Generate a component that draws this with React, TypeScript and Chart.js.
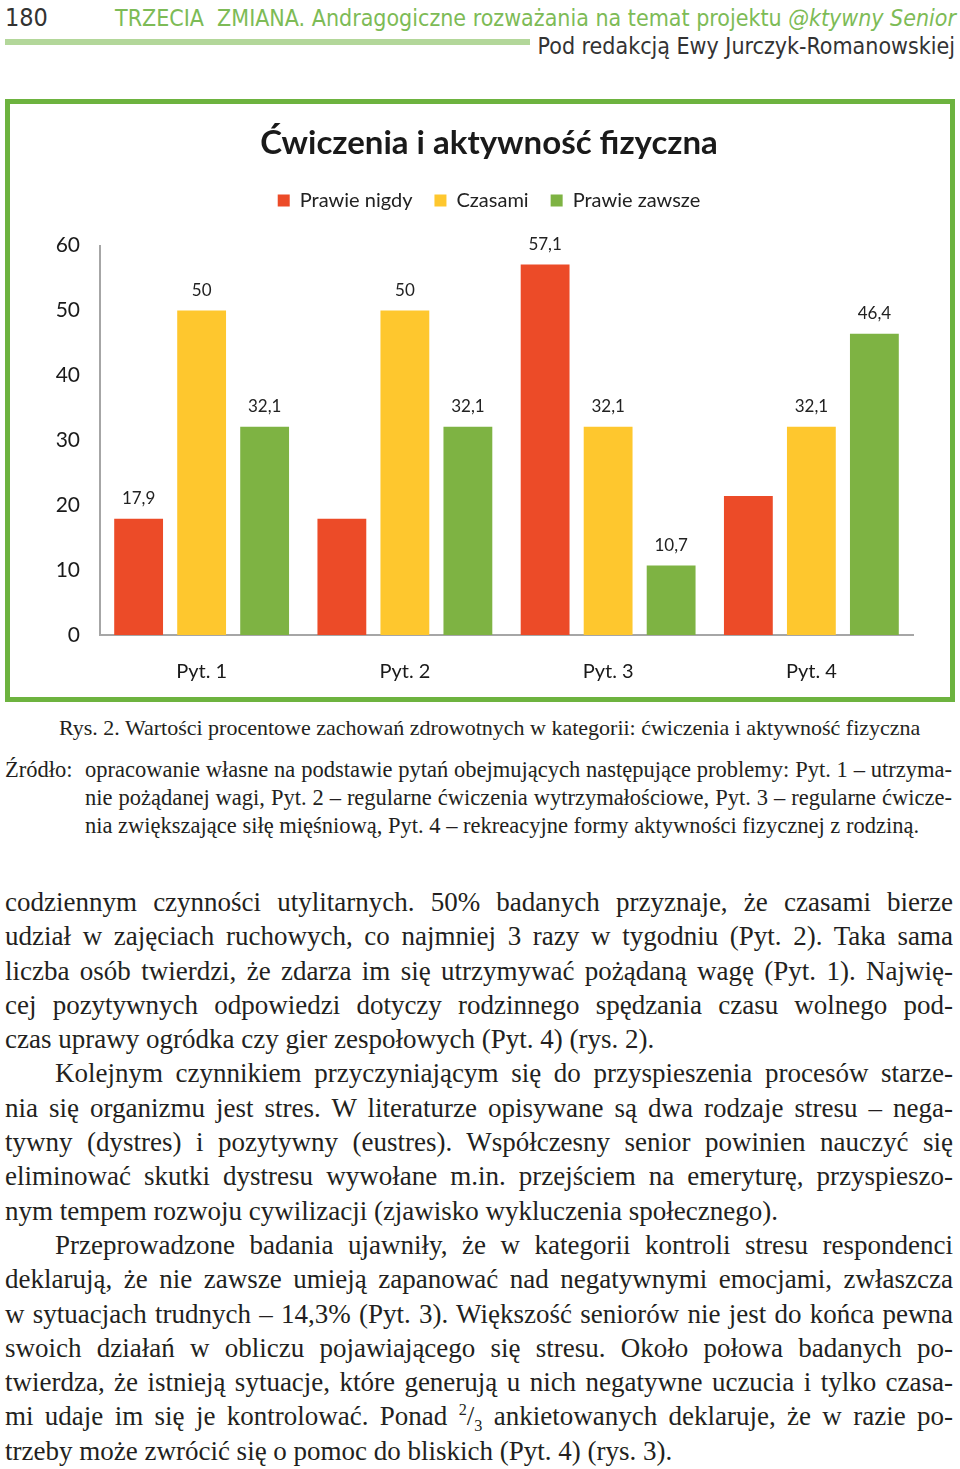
import React, { useEffect, useRef } from "react";
import { Chart, registerables } from "chart.js";

Chart.register(...registerables);

const chartTitle = "Ćwiczenia i aktywność fizyczna";
const categories = ["Pyt. 1", "Pyt. 2", "Pyt. 3", "Pyt. 4"];
const seriesNames = ["Prawie nigdy", "Czasami", "Prawie zawsze"];
const prawieNigdy = [17.9, 17.9, 57.1, 21.4];
const czasami = [50, 50, 32.1, 32.1];
const prawieZawsze = [32.1, 32.1, 10.7, 46.4];
const labelShownPrawieNigdy = [true, false, true, false];
const labelShownCzasami = [true, true, true, true];
const labelShownPrawieZawsze = [true, true, true, true];
const yMin = 0;
const yMax = 60;
const yStep = 10;

const seriesColors = ["#EC4B28", "#FEC72E", "#7EB343"];

const headerTitle = "TRZECIA  ZMIANA. Andragogiczne rozważania na temat projektu ";
const headerTitleItalic = "@ktywny Senior";
const headerEditor = "Pod redakcją Ewy Jurczyk-Romanowskiej";
const pageNumber = "180";
const captionText =
  "Rys. 2. Wartości procentowe zachowań zdrowotnych w kategorii: ćwiczenia i aktywność fizyczna";
const sourceLabel = "Źródło:";
const sourceLines = [
  "opracowanie własne na podstawie pytań obejmujących następujące problemy: Pyt. 1 – utrzyma-",
  "nie pożądanej wagi, Pyt. 2 – regularne ćwiczenia wytrzymałościowe, Pyt. 3 – regularne ćwicze-",
  "nia zwiększające siłę mięśniową, Pyt. 4 – rekreacyjne formy aktywności fizycznej z rodziną.",
];
// [text, indent, justify]
const bodyLines: [string, boolean, boolean][] = [
  ["codziennym czynności utylitarnych. 50% badanych przyznaje, że czasami bierze", false, true],
  ["udział w zajęciach ruchowych, co najmniej 3 razy w tygodniu (Pyt. 2). Taka sama", false, true],
  ["liczba osób twierdzi, że zdarza im się utrzymywać pożądaną wagę (Pyt. 1). Najwię-", false, true],
  ["cej pozytywnych odpowiedzi dotyczy rodzinnego spędzania czasu wolnego pod-", false, true],
  ["czas uprawy ogródka czy gier zespołowych (Pyt. 4) (rys. 2).", false, false],
  ["Kolejnym czynnikiem przyczyniającym się do przyspieszenia procesów starze-", true, true],
  ["nia się organizmu jest stres. W literaturze opisywane są dwa rodzaje stresu – nega-", false, true],
  ["tywny (dystres) i pozytywny (eustres). Współczesny senior powinien nauczyć się", false, true],
  ["eliminować skutki dystresu wywołane m.in. przejściem na emeryturę, przyspieszo-", false, true],
  ["nym tempem rozwoju cywilizacji (zjawisko wykluczenia społecznego).", false, false],
  ["Przeprowadzone badania ujawniły, że w kategorii kontroli stresu respondenci", true, true],
  ["deklarują, że nie zawsze umieją zapanować nad negatywnymi emocjami, zwłaszcza", false, true],
  ["w sytuacjach trudnych – 14,3% (Pyt. 3). Większość seniorów nie jest do końca pewna", false, true],
  ["swoich działań w obliczu pojawiającego się stresu. Około połowa badanych po-", false, true],
  ["twierdza, że istnieją sytuacje, które generują u nich negatywne uczucia i tylko czasa-", false, true],
  ["mi udaje im się je kontrolować. Ponad |FRAC| ankietowanych deklaruje, że w razie po-", false, true],
  ["trzeby może zwrócić się o pomoc do bliskich (Pyt. 4) (rys. 3).", false, false],
];

const fmt = (v: number) => String(v).replace(".", ",");
const chartFont = "Lato, 'Open Sans', sans-serif";

function BarChart() {
  const ref = useRef<HTMLCanvasElement | null>(null);
  useEffect(() => {
    if (!ref.current) return;
    const shown = [labelShownPrawieNigdy, labelShownCzasami, labelShownPrawieZawsze];
    const valueLabels = {
      id: "valueLabels",
      afterDatasetsDraw(chart: any) {
        const ctx = chart.ctx;
        ctx.save();
        ctx.font = "17px " + chartFont;
        ctx.fillStyle = "#222";
        ctx.textAlign = "center";
        ctx.textBaseline = "middle";
        chart.data.datasets.forEach((ds: any, di: number) => {
          const meta = chart.getDatasetMeta(di);
          meta.data.forEach((el: any, i: number) => {
            if (!shown[di][i]) return;
            ctx.fillText(fmt(ds.data[i]), el.x, el.y - 20);
          });
        });
        ctx.restore();
      },
    };
    const legendSpace = {
      id: "legendSpace",
      beforeInit(chart: any) {
        const origFit = chart.legend.fit;
        chart.legend.fit = function fit() {
          origFit.bind(chart.legend)();
          this.height += 25;
        };
      },
    };
    const chart = new Chart(ref.current, {
      type: "bar",
      data: {
        labels: categories,
        datasets: [
          { label: seriesNames[0], data: prawieNigdy, backgroundColor: seriesColors[0] },
          { label: seriesNames[1], data: czasami, backgroundColor: seriesColors[1] },
          { label: seriesNames[2], data: prawieZawsze, backgroundColor: seriesColors[2] },
        ],
      },
      options: {
        animation: false,
        responsive: true,
        maintainAspectRatio: false,
        datasets: { bar: { categoryPercentage: 0.93, barPercentage: 0.775 } },
        layout: { padding: { left: 18, right: 0, top: 0, bottom: 0 } },
        plugins: {
          title: {
            display: true,
            text: chartTitle,
            color: "#1a1a1a",
            font: { family: chartFont, size: 33, weight: "bold" },
            padding: { top: 20, bottom: 5 },
          },
          legend: {
            display: true,
            position: "top",
            labels: {
              boxWidth: 12,
              boxHeight: 12,
              color: "#222",
              padding: 22,
              font: { family: chartFont, size: 20 },
            },
          },
          tooltip: { enabled: false },
        },
        scales: {
          x: {
            grid: { display: false },
            border: { display: true, color: "#a6a6a6", width: 2 },
            ticks: {
              color: "#1a1a1a",
              padding: 17,
              font: { family: chartFont, size: 20 },
            },
            afterFit(scale: any) {
              scale.height = 62;
            },
          },
          y: {
            position: "left",
            min: yMin,
            max: yMax,
            grid: { display: false },
            border: { display: true, color: "#a6a6a6", width: 2 },
            ticks: {
              stepSize: yStep,
              color: "#1a1a1a",
              padding: 12,
              font: { family: chartFont, size: 21 },
            },
            afterFit(scale: any) {
              scale.width = 72;
            },
          },
          yRightSpace: {
            position: "right",
            display: true,
            grid: { display: false },
            border: { display: false },
            ticks: { display: false },
            afterFit(scale: any) {
              scale.width = 37;
            },
          },
        },
      },
      plugins: [valueLabels, legendSpace],
    } as any);
    return () => chart.destroy();
  }, []);
  return (
    <div style={{ position: "relative", width: 940, height: 593 }}>
      <canvas ref={ref} />
    </div>
  );
}

const serif = "'Liberation Serif', 'DejaVu Serif', serif";
const narrowSans = "'Liberation Sans Narrow', 'DejaVu Sans Condensed', 'Liberation Sans', sans-serif";

function Line({ text, indent, justify }: { text: string; indent: boolean; justify: boolean }) {
  let content: React.ReactNode = text;
  if (text.includes("|FRAC|")) {
    const [a, b] = text.split("|FRAC|");
    content = (
      <>
        {a}
        <sup style={{ fontSize: "0.6em", lineHeight: 0 }}>2</sup>/
        <sub style={{ fontSize: "0.6em", lineHeight: 0 }}>3</sub>
        {b}
      </>
    );
  }
  return (
    <div
      style={{
        whiteSpace: "nowrap",
        textAlign: justify ? "justify" : "left",
        textAlignLast: justify ? "justify" : "left",
        paddingLeft: indent ? 50 : 0,
        height: 34.3,
        lineHeight: "34.3px",
      } as any}
    >
      {content}
    </div>
  );
}

export default function App() {
  return (
    <div
      style={{
        position: "absolute",
        left: 0,
        top: 0,
        width: 960,
        height: 1469,
        background: "#fff",
        overflow: "hidden",
        color: "#231f20",
      }}
    >
      {/* header */}
      <div style={{ position: "absolute", left: 5, top: 4, fontFamily: narrowSans, fontSize: 25, lineHeight: "28px", color: "#333" }}>
        {pageNumber}
      </div>
      <div
        style={{
          position: "absolute",
          left: 115,
          top: 4,
          width: 840,
          fontFamily: narrowSans,
          fontSize: 23,
          lineHeight: "28px",
          color: "#7dbb56",
          whiteSpace: "pre",
          textAlign: "right",
        }}
      >
        {headerTitle}
        <i>{headerTitleItalic}</i>
      </div>
      <div style={{ position: "absolute", left: 5, top: 39, width: 525, height: 6, background: "#b3d79a" }} />
      <div
        style={{
          position: "absolute",
          right: 5,
          top: 32,
          fontFamily: narrowSans,
          fontSize: 23,
          lineHeight: "28px",
          color: "#333",
          whiteSpace: "nowrap",
        }}
      >
        {headerEditor}
      </div>

      {/* chart box */}
      <div
        style={{
          position: "absolute",
          left: 5,
          top: 99,
          width: 950,
          height: 603,
          border: "5px solid #6db33f",
          boxSizing: "border-box",
          background: "#fff",
        }}
      >
        <BarChart />
      </div>

      {/* caption */}
      <div
        style={{
          position: "absolute",
          left: 59,
          top: 714,
          fontFamily: serif,
          fontSize: 22,
          lineHeight: "28px",
          whiteSpace: "nowrap",
        }}
      >
        {captionText}
      </div>
      <div style={{ position: "absolute", left: 5, top: 756, fontFamily: serif, fontSize: 22.5, lineHeight: "28px" }}>
        {sourceLabel}
      </div>
      <div style={{ position: "absolute", left: 85, top: 756, width: 867, fontFamily: serif, fontSize: 22.5 }}>
        {sourceLines.map((t, i) => (
          <div
            key={i}
            style={{
              whiteSpace: "nowrap",
              lineHeight: "28px",
              height: 28,
              textAlign: i < sourceLines.length - 1 ? "justify" : "left",
              textAlignLast: i < sourceLines.length - 1 ? "justify" : "left",
            } as any}
          >
            {t}
          </div>
        ))}
      </div>

      {/* body */}
      <div style={{ position: "absolute", left: 5, top: 885, width: 948, fontFamily: serif, fontSize: 27 }}>
        {bodyLines.map(([t, ind, j], i) => (
          <Line key={i} text={t} indent={ind} justify={j} />
        ))}
      </div>
    </div>
  );
}
